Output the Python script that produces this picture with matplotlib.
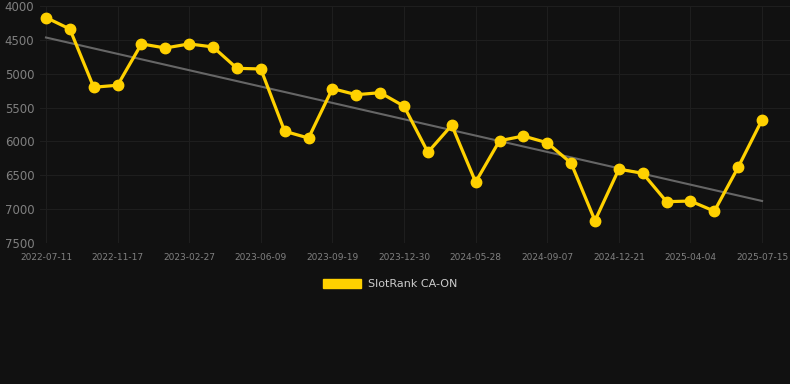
import numpy as np
import matplotlib
matplotlib.use("Agg")
import matplotlib.pyplot as plt
from matplotlib.patches import Patch

# ── Data ──────────────────────────────────────────────────────────────
tick_labels = ["2022-07-11", "2022-11-17", "2023-02-27", "2023-06-09", "2023-09-19",
               "2023-12-30", "2024-05-28", "2024-09-07", "2024-12-21", "2025-04-04",
               "2025-07-15"]
ranks = [4170, 4340, 5200, 5170, 4560, 4620, 4560, 4605, 4920, 4930,
         5850, 5950, 5220, 5310, 5280, 5480, 6160, 5760, 6600, 5990,
         5920, 6020, 6320, 7170, 6410, 6470, 6890, 6880, 7030, 6380,
         5680]
series_name = "SlotRank CA-ON"

# ── Colours ───────────────────────────────────────────────────────────
C_BG = "#111111"
C_GRID = "#1e1e1e"
C_TICK = "#808080"
C_LINE = "#FFD100"
C_TREND = "#666666"

x = np.arange(len(ranks))
slope, icpt = np.polyfit(x, ranks, 1)

fig = plt.figure(figsize=(7.9, 3.84), dpi=100, facecolor=C_BG)
ax = fig.add_axes([40 / 790, 1 - 243 / 384, 750 / 790, 237 / 384], facecolor=C_BG)

ax.plot(x, slope * x + icpt, color=C_TREND, linewidth=1.5, zorder=2)
ax.plot(x, ranks, color=C_LINE, linewidth=2.3, marker="o", markersize=7.5,
        zorder=3, clip_on=False)

ax.set_ylim(7500, 4000)
ax.set_yticks(np.arange(4000, 7501, 500))
ax.set_xlim(-0.25, 31.17)
ax.set_xticks(x[::3])
ax.set_xticklabels(tick_labels)

ax.grid(True, color=C_GRID, linewidth=0.8)
ax.set_axisbelow(True)
for s in ax.spines.values():
    s.set_visible(False)
ax.tick_params(axis="y", length=0, labelsize=8.5, labelcolor=C_TICK, pad=4)
ax.tick_params(axis="x", length=0, labelsize=6.5, labelcolor=C_TICK, pad=7)

fig.legend(handles=[Patch(facecolor=C_LINE, edgecolor=C_LINE, label=series_name)],
           loc="center", bbox_to_anchor=(390 / 790, 1 - 284 / 384), frameon=False,
           fontsize=8, labelcolor="#cccccc", handlelength=3.4, handleheight=0.9,
           handletextpad=0.6)

fig.savefig("out.png", dpi=100, facecolor=C_BG)
